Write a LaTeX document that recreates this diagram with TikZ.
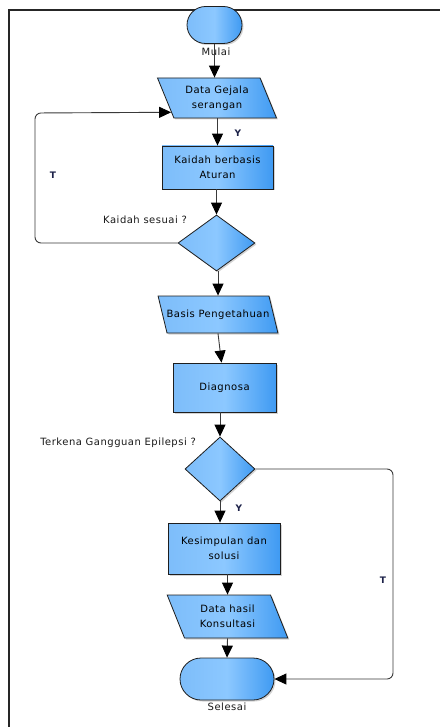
\documentclass[tikz,border=0pt]{standalone}
\usepackage{fontspec}
\setmainfont{DejaVu Sans}[LetterSpace=5]
\usetikzlibrary{shapes.geometric,shapes.misc,arrows.meta,shadows,calc}
\definecolor{cL}{HTML}{7DBDFA}
\definecolor{cM}{HTML}{8CC8FF}
\definecolor{cR}{HTML}{3F9AF2}
\definecolor{edge}{HTML}{1E1E1E}
\definecolor{wire}{HTML}{3A3A3A}
\definecolor{yt}{HTML}{1C2148}
\begin{document}
\begin{tikzpicture}[x=1pt,y=-1pt,font=\fontsize{10}{15}\selectfont,
  shapebase/.style={draw=edge,line width=0.8pt,left color=cL,right color=cR,middle color=cM,
    drop shadow={shadow xshift=1.5pt,shadow yshift=-1.5pt,opacity=0.35},inner sep=1pt,align=center},
  procbox/.style={shapebase,rectangle},
  iobox/.style={shapebase,trapezium,trapezium left angle=115,trapezium right angle=65,
    trapezium stretches=true,minimum width=120pt},
  termbox/.style={shapebase,rounded rectangle},
  decbox/.style={shapebase,diamond,inner sep=0pt},
  conn/.style={draw=wire,line width=0.9pt,-{Triangle[width=11pt,length=12pt,fill=black,color=black]}},
  loopconn/.style={conn,rounded corners=6pt},
  yesno/.style={font=\fontsize{9}{10}\selectfont\bfseries,text=yt},
  plain/.style={inner sep=0pt,text=black!90}]
\useasboundingbox (0,0) rectangle (440,727);
\draw[line width=1.1pt,draw=black!85] (9,727) -- (9,10) -- (440,10);

\node[termbox,minimum width=57pt,minimum height=37pt] (mulai) at (214.5,25) {};
\node[plain] (mulaiT) at (216,52) {Mulai};
\node[iobox,minimum height=40pt] (d1) at (217,98) {Data Gejala\\serangan};
\node[procbox,minimum width=111pt,minimum height=43pt] (kaidah) at (217.5,167.5) {Kaidah berbasis\\Aturan};
\node[decbox,minimum width=77pt,minimum height=56pt] (q1) at (216.5,243) {};
\node[plain,anchor=east] (q1T) at (187,220) {Kaidah sesuai ?};
\node[iobox,minimum height=37pt] (d2) at (218,314.5) {\makebox[60pt]{Basis Pengetahuan}};
\node[procbox,minimum width=103pt,minimum height=49pt] (diag) at (224.5,387.5) {Diagnosa};
\node[decbox,minimum width=70pt,minimum height=64pt] (q2) at (220,469) {};
\node[plain,anchor=east] (q2T) at (196,443) {Terkena Gangguan Epilepsi ?};
\node[procbox,minimum width=112pt,minimum height=51pt] (kes) at (224,548.5) {Kesimpulan dan\\solusi};
\node[iobox,minimum height=43pt,minimum width=121pt] (d3) at (227.5,616.5) {Data hasil\\Konsultasi};
\node[termbox,minimum width=96pt,minimum height=42pt] (sel) at (227,679) {};
\node[plain] (selT) at (227,707) {Selesai};

\coordinate (lx) at (35,243);
\coordinate (rx) at (393,469);

\draw[conn] (mulai.south) -- (mulai.south |- d1.north);
\draw[conn] (kaidah.north |- d1.south) -- (kaidah.north);
\node[yesno] (y1) at (238,133) {Y};
\draw[conn] (q1.north |- kaidah.south) -- (q1.north);
\draw[loopconn] (q1.west) -- (lx) -- (lx |- 0,113) -- ($(d1.top left corner)!0.85!(d1.bottom left corner)$);
\node[yesno] (t1) at (53,175) {T};
\draw[conn] (d2.north |- q1.south) -- (d2.north);
\draw[conn] (d2.south) -- ([xshift=-3pt]diag.north);
\draw[conn] (q2.north |- diag.south) -- (q2.north);
\draw[conn] (q2.south) -- (q2.south |- kes.north);
\node[yesno] (y2) at (239,508) {Y};
\draw[conn] (d3.north |- kes.south) -- (d3.north);
\draw[conn] (d3.south) -- (sel.north);
\draw[loopconn] (q2.east) -- (rx) -- (rx |- sel.east) -- (sel.east);
\node[yesno] (t2) at (383,580) {T};
\end{tikzpicture}
\end{document}
